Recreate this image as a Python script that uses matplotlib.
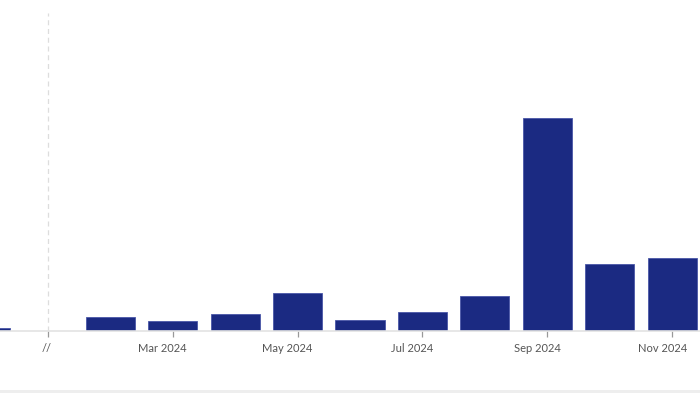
import matplotlib
matplotlib.use("Agg")
import matplotlib.pyplot as plt
import matplotlib.transforms as mtransforms

# Data (relative values)
categories = ["Jan 2023", "//", "Feb 2024", "Mar 2024", "Apr 2024", "May 2024", "Jun 2024",
              "Jul 2024", "Aug 2024", "Sep 2024", "Oct 2024", "Nov 2024"]
values = [2.2, None, 13.8, 9.8, 16.5, 37.5, 10.5, 18.2, 34.5, 212.8, 66.2, 72.2]
tick_labels = ["//", "Mar 2024", "May 2024", "Jul 2024", "Sep 2024", "Nov 2024"]
tick_slots = [1, 3, 5, 7, 9, 11]

bar_color = "#1b2a82"
W, H = 700, 393
fig = plt.figure(figsize=(W / 100, H / 100), dpi=100)
fig.patch.set_facecolor("white")

# bottom light grey strip
fig.add_artist(plt.Rectangle((0, 0), 1, 3 / H, transform=fig.transFigure,
                             color="#eeeeee", lw=0))

ax = fig.add_axes([0, 62.5 / H, 1, (380 - 62.5) / H])
ax.set_facecolor("white")

xs = [i - 1 for i in range(len(categories))]
for x, v in zip(xs, values):
    if v is None:
        continue
    ax.bar(x, v, width=0.785, color=bar_color, edgecolor="#4a57a8", linewidth=0.6, zorder=3)

# break dashed line
ax.axvline(0, color="#dddddd", lw=0.9, ls=(0, (4, 3)), zorder=1)

origin, step = 47.8, 62.44
ax.set_xlim(-origin / step, (700 - origin) / step)
ax.set_ylim(0, 317.5)

for s in ["top", "right", "left"]:
    ax.spines[s].set_visible(False)
ax.spines["bottom"].set_color("#e3e3e3")
ax.spines["bottom"].set_linewidth(1.2)
ax.spines["bottom"].set_zorder(4)

ax.set_yticks([])
ax.set_xticks([s - 1 for s in tick_slots])
ax.set_xticklabels(tick_labels, fontsize=8, color="#555555", family="Lato")
ax.tick_params(axis="x", length=4, width=0.9, color="#999999", pad=5)

offset = mtransforms.ScaledTranslation(-10 / 100, 0, fig.dpi_scale_trans)
for i, lbl in enumerate(ax.get_xticklabels()):
    if i == 0:
        lbl.set_transform(lbl.get_transform() + mtransforms.ScaledTranslation(-1 / 100, 0, fig.dpi_scale_trans))
    else:
        lbl.set_transform(lbl.get_transform() + offset)

fig.savefig("out.png", dpi=100, facecolor="white")
